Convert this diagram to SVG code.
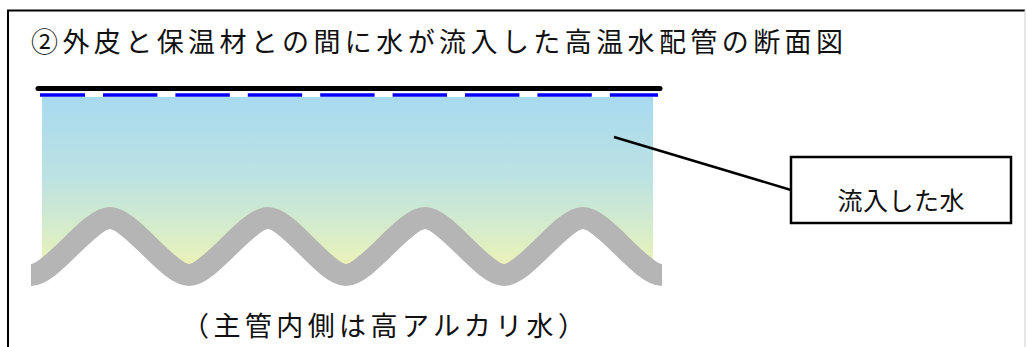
<svg xmlns="http://www.w3.org/2000/svg" width="1027" height="347" viewBox="0 0 1027 347">
  <style>
    .jp { font-family: "Noto Sans CJK JP", "Noto Sans CJK SC", sans-serif; fill: #111; }
    .frame { fill: none; stroke: #000; stroke-width: 2; }
    .leader { stroke: #000; stroke-width: 2.5; fill: none; }
    .label-box { fill: #fff; stroke: #000; stroke-width: 2.5; }
  </style>
  <defs>
    <linearGradient id="waterFill" x1="0" y1="0" x2="0" y2="1">
      <stop offset="0" stop-color="#a8daf0"/>
      <stop offset="0.45" stop-color="#bde2e2"/>
      <stop offset="0.75" stop-color="#d8edc8"/>
      <stop offset="1" stop-color="#f6f4b0"/>
    </linearGradient>
    <filter id="soft" x="-5%" y="-5%" width="110%" height="110%">
      <feGaussianBlur stdDeviation="0.7"/>
    </filter>
    <!-- corrugated pipe wall -->
    <path id="corrugation" d="M31,275 C52,275 89,218 110,218 C131,218 168,275 189,275 C210,275 247,218 268,218 C289,218 325,275 346,275 C367,275 404,218 425,218 C446,218 483,275 504,275 C525,275 562,218 583,218 C604,218 641,275 662,275"/>
  </defs>

  <rect width="1027" height="347" fill="#fff"/>

  <!-- outer frame: left and top in black, right edge faint -->
  <g id="frame">
    <path class="frame" d="M8,360 V10.5 H1025"/>
    <line x1="1025" y1="10" x2="1025" y2="347" stroke="#cfcfcf" stroke-width="1"/>
  </g>

  <g id="title">
    <text class="jp" x="31" y="52" font-size="27" textLength="812" lengthAdjust="spacing">②外皮と保温材との間に水が流入した高温水配管の断面図</text>
  </g>

  <!-- pipe cross-section: outer skin, water layer, corrugated main pipe -->
  <g id="pipe-section" filter="url(#soft)">
    <rect x="42" y="97" width="611" height="182" fill="url(#waterFill)"/>
    <path fill="#fff" d="M31,275 C52,275 89,218 110,218 C131,218 168,275 189,275 C210,275 247,218 268,218 C289,218 325,275 346,275 C367,275 404,218 425,218 C446,218 483,275 504,275 C525,275 562,218 583,218 C604,218 641,275 662,275 L662,300 L31,300 Z"/>
    <use href="#corrugation" fill="none" stroke="#b5b5b5" stroke-width="22"/>
    <line x1="38" y1="88.5" x2="660" y2="88.5" stroke="#000" stroke-width="5" stroke-linecap="round"/>
    <line x1="40" y1="95" x2="658" y2="95" stroke="#0000ff" stroke-width="3.5" stroke-dasharray="54.4 18" stroke-dashoffset="9.4"/>
  </g>

  <g id="connectors">
    <line class="leader" x1="614" y1="137" x2="791" y2="190"/>
  </g>

  <g id="label-water">
    <rect class="label-box" x="791" y="157" width="220" height="66"/>
    <text class="jp" x="901" y="210" font-size="25" text-anchor="middle" textLength="127" lengthAdjust="spacing">流入した水</text>
  </g>

  <g id="caption">
    <text class="jp" x="182" y="336" font-size="27" textLength="403" lengthAdjust="spacing">（主管内側は高アルカリ水）</text>
  </g>
</svg>
